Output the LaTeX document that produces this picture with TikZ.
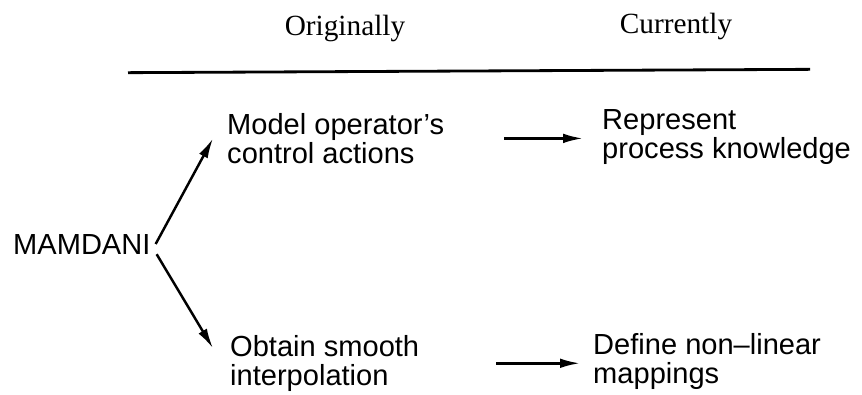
\documentclass[tikz,border=0pt]{standalone}
\usepackage{fontspec}
\setmainfont{Liberation Serif}
\setsansfont{Liberation Sans}
\usepackage{tikz}
\usetikzlibrary{arrows.meta, positioning}

\begin{document}
\begin{tikzpicture}[
  titre/.style={
    font=\rmfamily\fontsize{25}{25}\selectfont,
    inner sep=0pt, anchor=base, text=black
  },
  bloc/.style={
    font=\sffamily\fontsize{24.8}{24.75}\selectfont,
    align=left, inner sep=0pt, anchor=north west, text=black
  },
  fleche/.style={
    -{Latex[length=6mm, width=2.9mm]},
    line width=2.1pt, draw=black
  },
  regle/.style={line width=2.4pt, draw=black}
]
  \useasboundingbox (0,0) rectangle (25.86,11.82);

  % En-tetes
  \node[titre] (orig) at (10.35,10.77) {Originally};
  \node[titre] (curr) at (20.28,10.83) {Currently};
  \coordinate (rg) at (3.84,9.64);
  \coordinate (rd) at (24.30,9.74);
  \draw[regle] (rg) -- (rd);

  % Colonne gauche
  \node[bloc, anchor=base west] (mamdani) at (0.39,4.20) {MAMDANI};
  \node[bloc] (model) at (6.81,8.43) {Model operator's\\control actions};
  \node[bloc] (obtain) at (6.90,1.77) {Obtain smooth\\interpolation};

  % Colonne droite
  \node[bloc] (represent) at (18.06,8.55) {Represent\\process knowledge};
  \node[bloc] (define) at (17.79,1.83) {Define non--linear\\mappings};

  \draw[fleche] ([xshift=0.15cm]mamdani.east) -- ([xshift=-0.42cm]model.west);
  \draw[fleche] ([xshift=0.18cm]mamdani.south east) -- ([xshift=-0.51cm, yshift=0.45cm]obtain.west);
  \draw[fleche, shorten <=1.8cm, shorten >=0.57cm] (model.east) -- (model.east -| represent.west);
  \draw[fleche, shorten <=2.3cm, shorten >=0.39cm] (obtain.east) -- (obtain.east -| define.west);

\end{tikzpicture}
\end{document}
